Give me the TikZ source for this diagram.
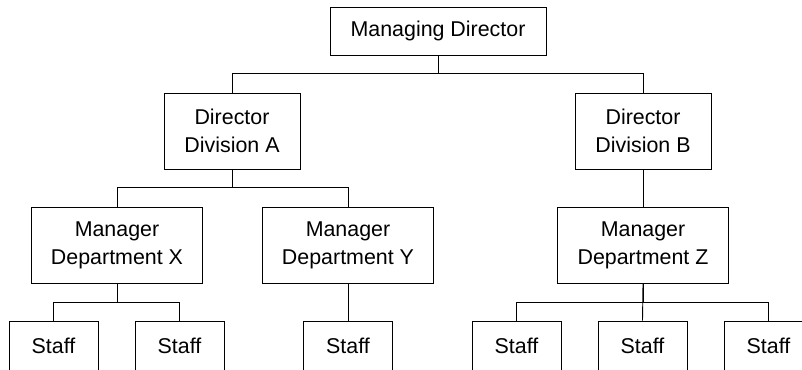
\documentclass[tikz,border=0pt]{standalone}
\usepackage{fontspec}
\setmainfont{Liberation Sans}
\usepackage{amsmath}

\begin{document}
\begin{tikzpicture}[x=1pt,y=-1pt,
        post/.style={draw,line width=0.9pt,inner sep=0pt,align=center,font=\fontsize{21.4}{28}\selectfont},
        head/.style={post,minimum width=216pt,minimum height=48pt},
        division/.style={post,minimum width=136pt,minimum height=76pt},
        dept/.style={post,minimum width=171pt,minimum height=76pt},
        staff/.style={post,minimum width=89pt,minimum height=50pt},
        link/.style={line width=0.9pt}]
        \useasboundingbox(0,0)rectangle(802,369);
        \clip(0,0)rectangle(802,369);

        \node[head](md)at(438,31){Managing Director};

        \node[division](diva)at(232,131){Director\\Division A};
        \node[division](divb)at(643,131){Director\\Division B};

        \node[dept](mgrx)at(117,245){Manager\\Department X};
        \node[dept](mgry)at(348,245){Manager\\Department Y};
        \node[dept](mgrz)at(643,245){Manager\\Department Z};

        \node[staff](sx1)at(53.5,346){Staff};
        \node[staff](sx2)at(179.5,346){Staff};
        \node[staff](sy1)at(348,346){Staff};
        \node[staff](sz1)at(516.5,346){Staff};
        \node[staff](sz2)at(642.5,346){Staff};
        \node[staff](sz3)at(768.5,346){Staff};

        \draw[link](md.south)--++(0,18)-|(diva.north);
        \draw[link](md.south)--++(0,18)-|(divb.north);

        \draw[link](diva.south)--++(0,18)-|(mgrx.north);
        \draw[link](diva.south)--++(0,18)-|(mgry.north);
        \draw[link](divb.south)--(mgrz.north);

        \draw[link](mgrx.south)--++(0,19)-|(sx1.north);
        \draw[link](mgrx.south)--++(0,19)-|(sx2.north);
        \draw[link](mgry.south)--(sy1.north);
        \draw[link](mgrz.south)--++(0,19)-|(sz1.north);
        \draw[link](mgrz.south)--(sz2.north);
        \draw[link](mgrz.south)--++(0,19)-|(sz3.north);
    \end{tikzpicture}
\end{document}
